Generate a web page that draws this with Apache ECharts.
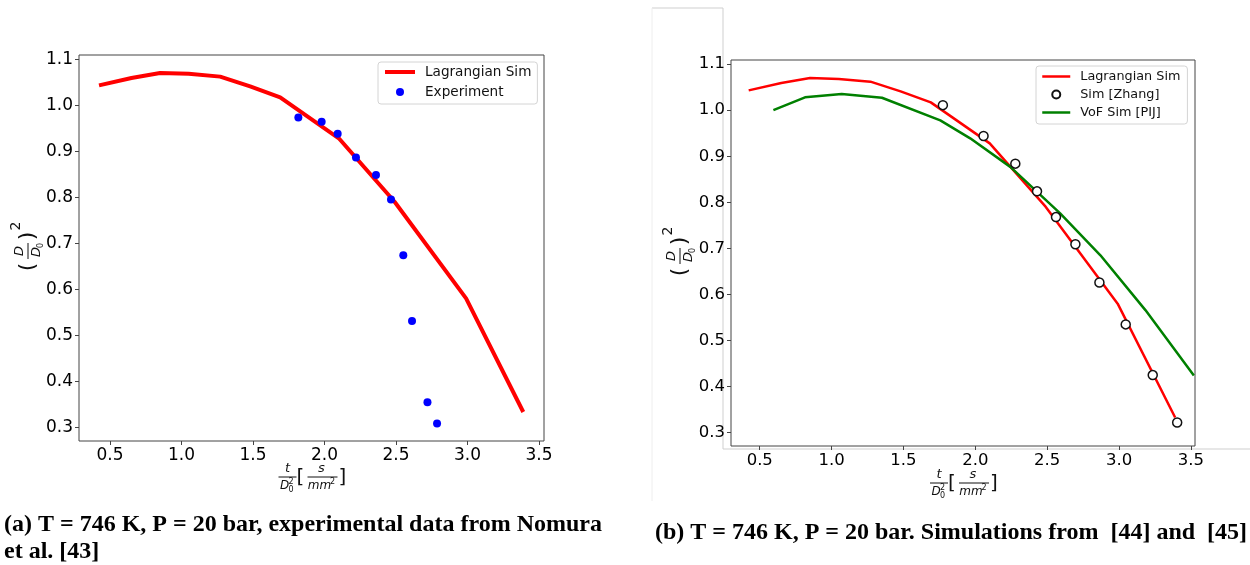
<!DOCTYPE html>
<html><head><meta charset="utf-8">
<script src="https://cdn.jsdelivr.net/npm/echarts@6/dist/echarts.min.js"></script>
<style>html,body{margin:0;padding:0;background:#fff}#c{width:1250px;height:565px}</style>
</head><body><div id="c"></div>
<script>
// Lagrangian simulation (same curve in both panels)
const lagX = [0.423, 0.65, 0.85, 1.05, 1.27, 1.48, 1.69, 2.10, 2.49, 2.99, 3.39];
const lagY = [1.043, 1.059, 1.070, 1.068, 1.062, 1.041, 1.017, 0.928, 0.790, 0.580, 0.333];
// Experiment (Nomura et al.)
const expX = [1.817, 1.98, 2.092, 2.22, 2.36, 2.465, 2.551, 2.612, 2.72, 2.787];
const expY = [0.973, 0.964, 0.938, 0.886, 0.848, 0.795, 0.674, 0.531, 0.354, 0.308];
// Sim [Zhang]
const zhX = [1.774, 2.057, 2.278, 2.429, 2.561, 2.696, 2.863, 3.046, 3.234, 3.404];
const zhY = [1.011, 0.944, 0.884, 0.824, 0.768, 0.709, 0.626, 0.535, 0.425, 0.322];
// VoF Sim [PIJ]
const vofX = [0.595, 0.815, 1.07, 1.35, 1.756, 1.964, 2.243, 2.59, 2.87, 3.183, 3.52];
const vofY = [1.000, 1.028, 1.035, 1.027, 0.978, 0.939, 0.877, 0.776, 0.685, 0.566, 0.424];
// tick labels
const xTicks = [0.5, 1.0, 1.5, 2.0, 2.5, 3.0, 3.5];
const yTicks = [0.3, 0.4, 0.5, 0.6, 0.7, 0.8, 0.9, 1.0, 1.1];
const captionA1 = '(a) T = 746 K, P = 20 bar, experimental data from Nomura';
const captionA2 = 'et al. [43]';
const captionB = '(b) T = 746 K, P = 20 bar. Simulations from  [44] and  [45]';

const zip = (xs, ys) => xs.map((x, i) => [x, ys[i]]);
const FONT = 'DejaVu Sans';
const AX = '#444';

function xAxis(idx, min, max, fs) {
  return {
    type: 'value', gridIndex: idx, min: min, max: max,
    axisLine: {show: false}, splitLine: {show: false},
    axisTick: {show: true, length: 4, lineStyle: {color: AX}, customValues: xTicks},
    axisLabel: {customValues: xTicks, formatter: v => v.toFixed(1), fontFamily: FONT, fontSize: fs, color: '#000', margin: 6}
  };
}
function yAxis(idx, min, max, fs) {
  return {
    type: 'value', gridIndex: idx, min: min, max: max,
    axisLine: {show: false}, splitLine: {show: false},
    axisTick: {show: true, length: 4, lineStyle: {color: AX}, customValues: yTicks},
    axisLabel: {customValues: yTicks, formatter: v => v.toFixed(1), fontFamily: FONT, fontSize: fs, color: '#000', margin: 6}
  };
}
function T(text, x, y, font) {
  return {type: 'text', x: x, y: y, style: {text: text, font: font, fill: '#111', align: 'center', verticalAlign: 'middle'}};
}
function L(x1, y1, x2, y2) {
  return {type: 'line', shape: {x1: x1, y1: y1, x2: x2, y2: y2}, style: {stroke: '#111', lineWidth: 1}};
}
function yLabel(cx, cy) {
  const it = 'italic 13px "DejaVu Sans"';
  return {type: 'group', x: cx, y: cy, rotation: Math.PI / 2, children: [
    T('(', -19, 0, '22px "DejaVu Sans"'),
    T('D', -3, -8, it),
    L(-11, 0, 5, 0),
    T('D', -4, 9, it),
    T('0', 2.5, 12.5, '8px "DejaVu Sans"'),
    T(')', 12, 0, '22px "DejaVu Sans"'),
    T('2', 22, -12, '14px "DejaVu Sans"')
  ]};
}
function xLabel(cx, cy) {
  const it = 'italic 12px "DejaVu Sans"';
  const sm = '8px "DejaVu Sans"';
  return {type: 'group', x: cx, y: cy, children: [
    T('t', -24, -8, 'italic 13px "DejaVu Sans"'),
    L(-33, 0, -15, 0),
    T('D', -27, 9, it), T('0', -20.5, 12.5, sm), T('2', -20.5, 5, sm),
    T('[', -11, 1, '20px "DejaVu Sans"'),
    T('s', 10, -8, 'italic 13px "DejaVu Sans"'),
    L(-4, 0, 26, 0),
    T('mm', 8, 9, it), T('2', 21, 5, sm),
    T(']', 31, 1, '20px "DejaVu Sans"')
  ]};
}
const hideSym = {opacity: 0};

const option = {
  animation: false,
  backgroundColor: '#fff',
  grid: [
    {left: 79, top: 55, right: 706, bottom: 124, show: true, borderColor: AX, borderWidth: 1, backgroundColor: 'transparent'},
    {left: 731, top: 60, right: 55, bottom: 119, show: true, borderColor: AX, borderWidth: 1, backgroundColor: 'transparent'}
  ],
  xAxis: [xAxis(0, 0.283, 3.535, 17), xAxis(1, 0.30, 3.528, 16.5)],
  yAxis: [yAxis(0, 0.27, 1.109, 17), yAxis(1, 0.271, 1.109, 16.5)],
  legend: [
    {data: [{name: 'Lagrangian Sim', itemStyle: hideSym}, 'Experiment'], orient: 'vertical', left: 378, top: 62,
     padding: [3, 6, 5, 5], itemGap: 6, itemWidth: 30, itemHeight: 8,
     borderColor: '#d4d4d4', borderWidth: 1, borderRadius: 3, backgroundColor: '#fff',
     lineStyle: {width: 4}, selectedMode: false,
     textStyle: {fontFamily: FONT, fontSize: 13.6, color: '#111', padding: [0, 0, 0, 5]}},
    {data: [{name: 'Lagrangian Sim', itemStyle: hideSym}, 'Sim [Zhang]', {name: 'VoF Sim [PIJ]', itemStyle: hideSym}],
     orient: 'vertical', left: 1036, top: 66,
     padding: [4, 7, 5, 5], itemGap: 5, itemWidth: 28, itemHeight: 8,
     borderColor: '#d4d4d4', borderWidth: 1, borderRadius: 3, backgroundColor: '#fff',
     lineStyle: {width: 2.5}, selectedMode: false,
     textStyle: {fontFamily: FONT, fontSize: 12.8, color: '#111', padding: [0, 0, 0, 5]}}
  ],
  series: [
    {name: 'Lagrangian Sim', type: 'line', xAxisIndex: 0, yAxisIndex: 0, data: zip(lagX, lagY),
     symbol: 'none', lineStyle: {color: '#ff0000', width: 4}, itemStyle: {color: '#ff0000'}, z: 2},
    {name: 'Experiment', type: 'scatter', xAxisIndex: 0, yAxisIndex: 0, data: zip(expX, expY),
     symbolSize: 8, itemStyle: {color: '#0000ff', opacity: 1}, z: 3},
    {name: 'Lagrangian Sim', type: 'line', xAxisIndex: 1, yAxisIndex: 1, data: zip(lagX, lagY),
     symbol: 'none', lineStyle: {color: '#ff0000', width: 2.5}, itemStyle: {color: '#ff0000'}, z: 2},
    {name: 'VoF Sim [PIJ]', type: 'line', xAxisIndex: 1, yAxisIndex: 1, data: zip(vofX, vofY),
     symbol: 'none', lineStyle: {color: '#008000', width: 2.5}, itemStyle: {color: '#008000'}, z: 2},
    {name: 'Sim [Zhang]', type: 'scatter', xAxisIndex: 1, yAxisIndex: 1, data: zip(zhX, zhY),
     symbolSize: 9, itemStyle: {color: '#fff', borderColor: '#111', borderWidth: 1.5, opacity: 1}, z: 4}
  ],
  graphic: [
    {type: 'polyline', shape: {points: [[652, 8], [723, 8], [723, 449], [1250, 449]]}, style: {stroke: '#cfcfcf', lineWidth: 1, fill: null}},
    {type: 'line', shape: {x1: 652, y1: 8, x2: 652, y2: 501}, style: {stroke: '#eeeeee', lineWidth: 1}},
    yLabel(28, 248),
    yLabel(680, 253),
    xLabel(311.5, 477),
    xLabel(963, 483),
    {type: 'text', left: 4, top: 513, style: {text: captionA1, font: 'bold 24px "Liberation Serif"', fill: '#000'}},
    {type: 'text', left: 4, top: 540, style: {text: captionA2, font: 'bold 24px "Liberation Serif"', fill: '#000'}},
    {type: 'text', left: 655, top: 521, style: {text: captionB, font: 'bold 24px "Liberation Serif"', fill: '#000'}}
  ]
};
const chart = echarts.init(document.getElementById('c'), null, {renderer: 'canvas'});
chart.setOption(option);
</script></body></html>
